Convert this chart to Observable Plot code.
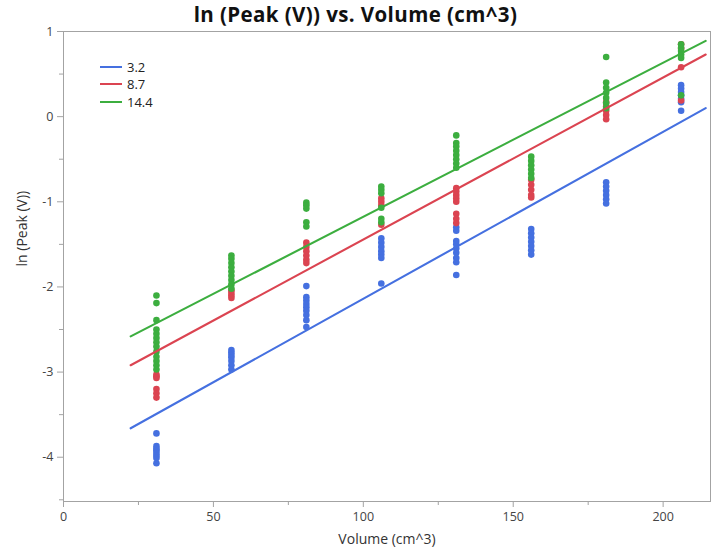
<!DOCTYPE html>
<html>
<head>
<meta charset="utf-8">
<script src="https://cdn.jsdelivr.net/npm/d3@7"></script>
<script src="https://cdn.jsdelivr.net/npm/@observablehq/plot@0.6"></script>
<style>
  html, body { margin: 0; padding: 0; background: #fff; }
  #wrap { position: relative; width: 711px; height: 552px; font-family: "Open Sans", "Noto Sans", sans-serif; }
  #title { position: absolute; left: 0; top: 0; width: 711px; height: 28px; line-height: 28px; text-align: center; font-weight: 700; font-size: 20.5px; color: #111; letter-spacing: 0.4px; }
  #chart { position: absolute; left: 0; top: 22px; }
  #legend { position: absolute; left: 100px; top: 58px; font-size: 13px; color: #222; }
  .item { display: flex; align-items: center; height: 17.5px; }
  .swatch { width: 22px; height: 0; border-top: 2.5px solid; margin-right: 5px; }
</style>
</head>
<body>
<div id="wrap">
  <div id="chart"></div>
  <div id="title">ln (Peak (V)) vs. Volume (cm^3)</div>
  <div id="legend"></div>
</div>
<script>
// Volumes (cm^3) at which peaks were recorded
const volumes = [31, 56, 81, 106, 131, 156, 181, 206];

// Series (thickness groups) and their colours
const seriesNames = ["3.2", "8.7", "14.4"];
const seriesColors = ["#4570e0", "#db4451", "#3cae3f"];

// ln(Peak (V)) readings for each volume, one list per series
const lnPeak_3_2 = [
  [-3.72, -3.87, -3.90, -3.92, -3.95, -3.98, -4.01, -4.07],
  [-2.74, -2.77, -2.80, -2.83, -2.87, -2.92, -2.97],
  [-1.99, -2.12, -2.16, -2.20, -2.24, -2.28, -2.33, -2.39, -2.47],
  [-1.43, -1.48, -1.53, -1.58, -1.62, -1.66, -1.96],
  [-1.30, -1.34, -1.46, -1.50, -1.55, -1.60, -1.66, -1.71, -1.86],
  [-1.32, -1.37, -1.42, -1.47, -1.52, -1.57, -1.62],
  [-0.77, -0.82, -0.87, -0.92, -0.97, -1.02],
  [0.37, 0.33, 0.29, 0.25, 0.21, 0.17, 0.07]
];
const lnPeak_8_7 = [
  [-3.03, -3.05, -3.07, -3.20, -3.25, -3.30],
  [-2.04, -2.07, -2.10, -2.13],
  [-1.48, -1.53, -1.58, -1.63, -1.68, -1.72],
  [-0.96, -1.00, -1.04, -1.27],
  [-0.84, -0.88, -0.92, -0.96, -1.00, -1.14, -1.20, -1.25],
  [-0.74, -0.80, -0.86, -0.92, -0.95],
  [0.17, 0.12, 0.07, 0.02, -0.03],
  [0.85, 0.80, 0.58, 0.19]
];
const lnPeak_14_4 = [
  [-2.10, -2.19, -2.39, -2.50, -2.55, -2.60, -2.65, -2.70, -2.76, -2.82, -2.87, -2.92, -2.97],
  [-1.63, -1.67, -1.72, -1.77, -1.82, -1.87, -1.92, -1.97, -2.02],
  [-1.01, -1.04, -1.08, -1.24, -1.29],
  [-0.82, -0.86, -0.90, -1.07, -1.20, -1.24],
  [-0.22, -0.31, -0.35, -0.40, -0.45, -0.50, -0.55, -0.60],
  [-0.47, -0.52, -0.57, -0.62, -0.67, -0.72],
  [0.70, 0.40, 0.34, 0.28, 0.22, 0.16, 0.10],
  [0.85, 0.81, 0.77, 0.73, 0.69, 0.25]
];

// Fitted lines: volume span and ln(Peak) at each end
const fitVolumes = [22.4, 214.2];
const fit_3_2 = [-3.66, 0.10];
const fit_8_7 = [-2.92, 0.73];
const fit_14_4 = [-2.58, 0.89];

// Axis ticks
const xMajorTicks = [0, 50, 100, 150, 200];
const xMinorTicks = [25, 75, 125, 175];
const yMajorTicks = [1, 0, -1, -2, -3, -4];
const yMinorTicks = [0.5, -0.5, -1.5, -2.5, -3.5, -4.5];

const readings = [lnPeak_3_2, lnPeak_8_7, lnPeak_14_4];
const fits = [fit_3_2, fit_8_7, fit_14_4];

const points = [];
readings.forEach((byVolume, s) => {
  byVolume.forEach((vals, i) => {
    vals.forEach(v => points.push({series: seriesNames[s], volume: volumes[i], lnPeak: v}));
  });
});

const fitRows = [];
fits.forEach((ends, s) => {
  ends.forEach((v, j) => fitRows.push({series: seriesNames[s], volume: fitVolumes[j], lnPeak: v}));
});

const axisColor = "#a3a3a3";
const plain = d => String(d);

const chart = Plot.plot({
  width: 711,
  height: 530,
  marginTop: 9,
  marginBottom: 51,
  marginLeft: 63,
  marginRight: 1,
  style: {fontFamily: "'Open Sans', 'Noto Sans', sans-serif", fontSize: "12.5px", color: "#333", background: "#fff"},
  x: {domain: [0, 215.8]},
  y: {domain: [-4.52, 1]},
  color: {domain: seriesNames, range: seriesColors},
  marks: [
    Plot.frame({stroke: axisColor}),
    Plot.axisX({ticks: xMajorTicks, tickFormat: plain, tickSize: 6, tickPadding: 5, stroke: axisColor, fill: "#444",
      label: null, fontSize: 12.5}),
    Plot.axisX({ticks: xMinorTicks, tickSize: 4, text: null, stroke: axisColor, label: null}),
    Plot.axisY({ticks: yMajorTicks, tickFormat: plain, tickSize: 6, tickPadding: 4, stroke: axisColor, fill: "#444",
      label: null, fontSize: 12.5}),
    Plot.axisY({ticks: yMinorTicks, tickSize: 4, text: null, stroke: axisColor, label: null}),
    Plot.text(["Volume (cm^3)"], {frameAnchor: "bottom", dy: 42, fontSize: 14, fill: "#333"}),
    Plot.text(["ln (Peak (V))"], {frameAnchor: "left", dx: -41, rotate: -90, fontSize: 14, fill: "#333"}),
    Plot.dot(points, {x: "volume", y: "lnPeak", fill: "series", r: 3.3, stroke: null}),
    Plot.line(fitRows, {x: "volume", y: "lnPeak", z: "series", stroke: "series", strokeWidth: 2.1})
  ]
});
document.getElementById("chart").appendChild(chart);

// Legend
const legend = document.getElementById("legend");
seriesNames.forEach((name, i) => {
  const item = document.createElement("div");
  item.className = "item";
  const sw = document.createElement("span");
  sw.className = "swatch";
  sw.style.borderColor = seriesColors[i];
  const label = document.createElement("span");
  label.textContent = name;
  item.appendChild(sw);
  item.appendChild(label);
  legend.appendChild(item);
});
</script>
</body>
</html>
